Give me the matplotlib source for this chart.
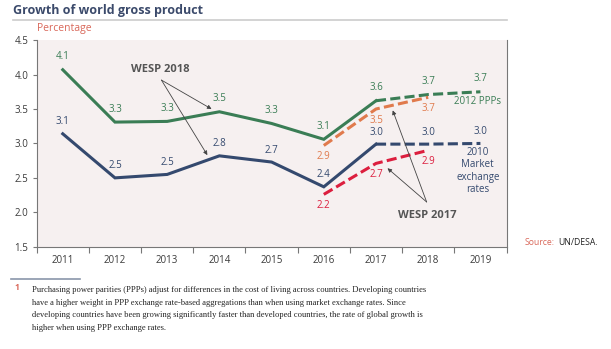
import matplotlib.pyplot as plt
from matplotlib.ticker import FixedLocator

years = [2011, 2012, 2013, 2014, 2015, 2016, 2017, 2018, 2019]
# WESP 2018 series (solid up to 2017, forecast dashed afterwards)
ppp_2018 = [4.07, 3.31, 3.32, 3.46, 3.29, 3.06, 3.62, 3.71, 3.75]
ppp_2018_lbl = ["4.1", "3.3", "3.3", "3.5", "3.3", "3.1", "3.6", "3.7", "3.7"]
mer_2018 = [3.14, 2.50, 2.55, 2.82, 2.73, 2.37, 2.99, 2.99, 3.00]
mer_2018_lbl = ["3.1", "2.5", "2.5", "2.8", "2.7", "2.4", "3.0", "3.0", "3.0"]
# WESP 2017 forecasts
years_2017 = [2016, 2017, 2018]
ppp_2017 = [2.97, 3.50, 3.67]
ppp_2017_lbl = ["2.9", "3.5", "3.7"]
mer_2017 = [2.26, 2.71, 2.90]
mer_2017_lbl = ["2.2", "2.7", "2.9"]

footnote = [
    "Purchasing power parities (PPPs) adjust for differences in the cost of living across countries. Developing countries",
    "have a higher weight in PPP exchange rate-based aggregations than when using market exchange rates. Since",
    "developing countries have been growing significantly faster than developed countries, the rate of global growth is",
    "higher when using PPP exchange rates.",
]

GREEN = "#3a7d55"
BLUE = "#34496e"
ORANGE = "#e07a4c"
RED = "#dc1e3e"
DARK = "#3b3b3b"

plt.rcParams['font.family'] = ['Open Sans', 'DejaVu Sans']

fig = plt.figure(figsize=(6.11, 3.49), dpi=100)
ax = fig.add_axes([0.060, 0.293, 0.769, 0.592])
ax.set_facecolor("#f6f0f0")

lw = 2.2
dash = (3.3, 1.4)
n_solid = years.index(2017) + 1
ax.plot(years[:n_solid], ppp_2018[:n_solid], color=GREEN, lw=lw, solid_joinstyle="miter")
ax.plot(years[n_solid - 1:], ppp_2018[n_solid - 1:], color=GREEN, lw=lw, dashes=dash)
ax.plot(years[:n_solid], mer_2018[:n_solid], color=BLUE, lw=lw, solid_joinstyle="miter")
ax.plot(years[n_solid - 1:], mer_2018[n_solid - 1:], color=BLUE, lw=lw, dashes=dash)
ax.plot(years_2017, ppp_2017, color=ORANGE, lw=lw, dashes=dash)
ax.plot(years_2017, mer_2017, color=RED, lw=lw, dashes=dash)


def labels(xs, ys, texts, color, dy):
    for x, y, t in zip(xs, ys, texts):
        ax.annotate(t, (x, y), xytext=(0, dy), textcoords="offset pixels",
                    ha="center", va="center", fontsize=7, color=color)


labels(years, ppp_2018, ppp_2018_lbl, GREEN, 13)
labels(years, mer_2018, mer_2018_lbl, BLUE, 12)
labels(years_2017, ppp_2017, ppp_2017_lbl, ORANGE, -11)
labels(years_2017, mer_2017, mer_2017_lbl, RED, -11)

ax.text(2018.95, 3.61, "2012 PPPs", color=GREEN, fontsize=7, ha="center", va="center")
ax.text(2018.95, 2.60, "2010\nMarket\nexchange\nrates", color=BLUE, fontsize=7,
        ha="center", va="center", linespacing=1.15)

# callouts
arrow = dict(arrowstyle="-|>", color="#444444", lw=0.6, mutation_scale=6, shrinkA=0, shrinkB=0)
ax.text(2012.86, 4.08, "WESP 2018", fontsize=8, fontweight="bold", color="#555555",
        ha="center", va="center")
for tx, ty in [(2013.85, 3.50), (2013.77, 2.83)]:
    ax.annotate("", xy=(tx, ty), xytext=(2012.89, 3.92), arrowprops=arrow)
ax.text(2017.99, 1.95, "WESP 2017", fontsize=8, fontweight="bold", color="#555555",
        ha="center", va="center")
for tx, ty in [(2017.32, 3.48), (2017.22, 2.64)]:
    ax.annotate("", xy=(tx, ty), xytext=(2017.97, 2.15), arrowprops=arrow)

ax.set_xlim(2010.5, 2019.5)
ax.set_ylim(1.5, 4.5)
ax.set_xticks(years)
ax.set_xticklabels([str(y) for y in years])
ax.xaxis.set_minor_locator(FixedLocator([y - 0.5 for y in years] + [2019.5]))
ax.tick_params(axis="x", which="major", length=0, pad=6, labelsize=7, labelcolor=DARK)
ax.tick_params(axis="x", which="minor", length=4, width=0.8, color="#777777")
ax.set_yticks([1.5, 2.0, 2.5, 3.0, 3.5, 4.0, 4.5])
ax.set_yticklabels(["1.5", "2.0", "2.5", "3.0", "3.5", "4.0", "4.5"])
ax.tick_params(axis="y", length=3, width=0.8, color="#777777", labelsize=7, labelcolor=DARK, pad=3)
for s in ["left", "bottom", "right"]:
    ax.spines[s].set_color("#777777")
    ax.spines[s].set_linewidth(0.8)
ax.spines["top"].set_visible(False)

fig.text(0.021, 0.97, "Growth of world gross product", fontsize=9, fontweight="bold",
         color="#3b4a6b", ha="left", va="center")
fig.add_artist(plt.Line2D([0.021, 0.829], [0.944, 0.944], color="#cccccc", lw=1.2))
fig.text(0.060, 0.917, "Percentage", fontsize=7.5, color="#d9685a", ha="left", va="center")

fig.text(0.859, 0.304, "Source:", fontsize=6.2, color="#d9685a", ha="left", va="center")
fig.text(0.979, 0.304, "UN/DESA.", fontsize=6.2, color="#222222", ha="right", va="center")

fig.add_artist(plt.Line2D([0.018, 0.131], [0.201, 0.201], color="#8a96aa", lw=1.2))
fig.text(0.023, 0.175, "1", fontsize=6, color="#d9685a", ha="left", va="center",
         fontweight="bold")
for i, line in enumerate(footnote):
    fig.text(0.052, 0.168 - i * 0.036, line, fontsize=6.1, color="#222222", ha="left",
             va="center", family=["Liberation Serif"])

fig.savefig("out.png", dpi=100)
